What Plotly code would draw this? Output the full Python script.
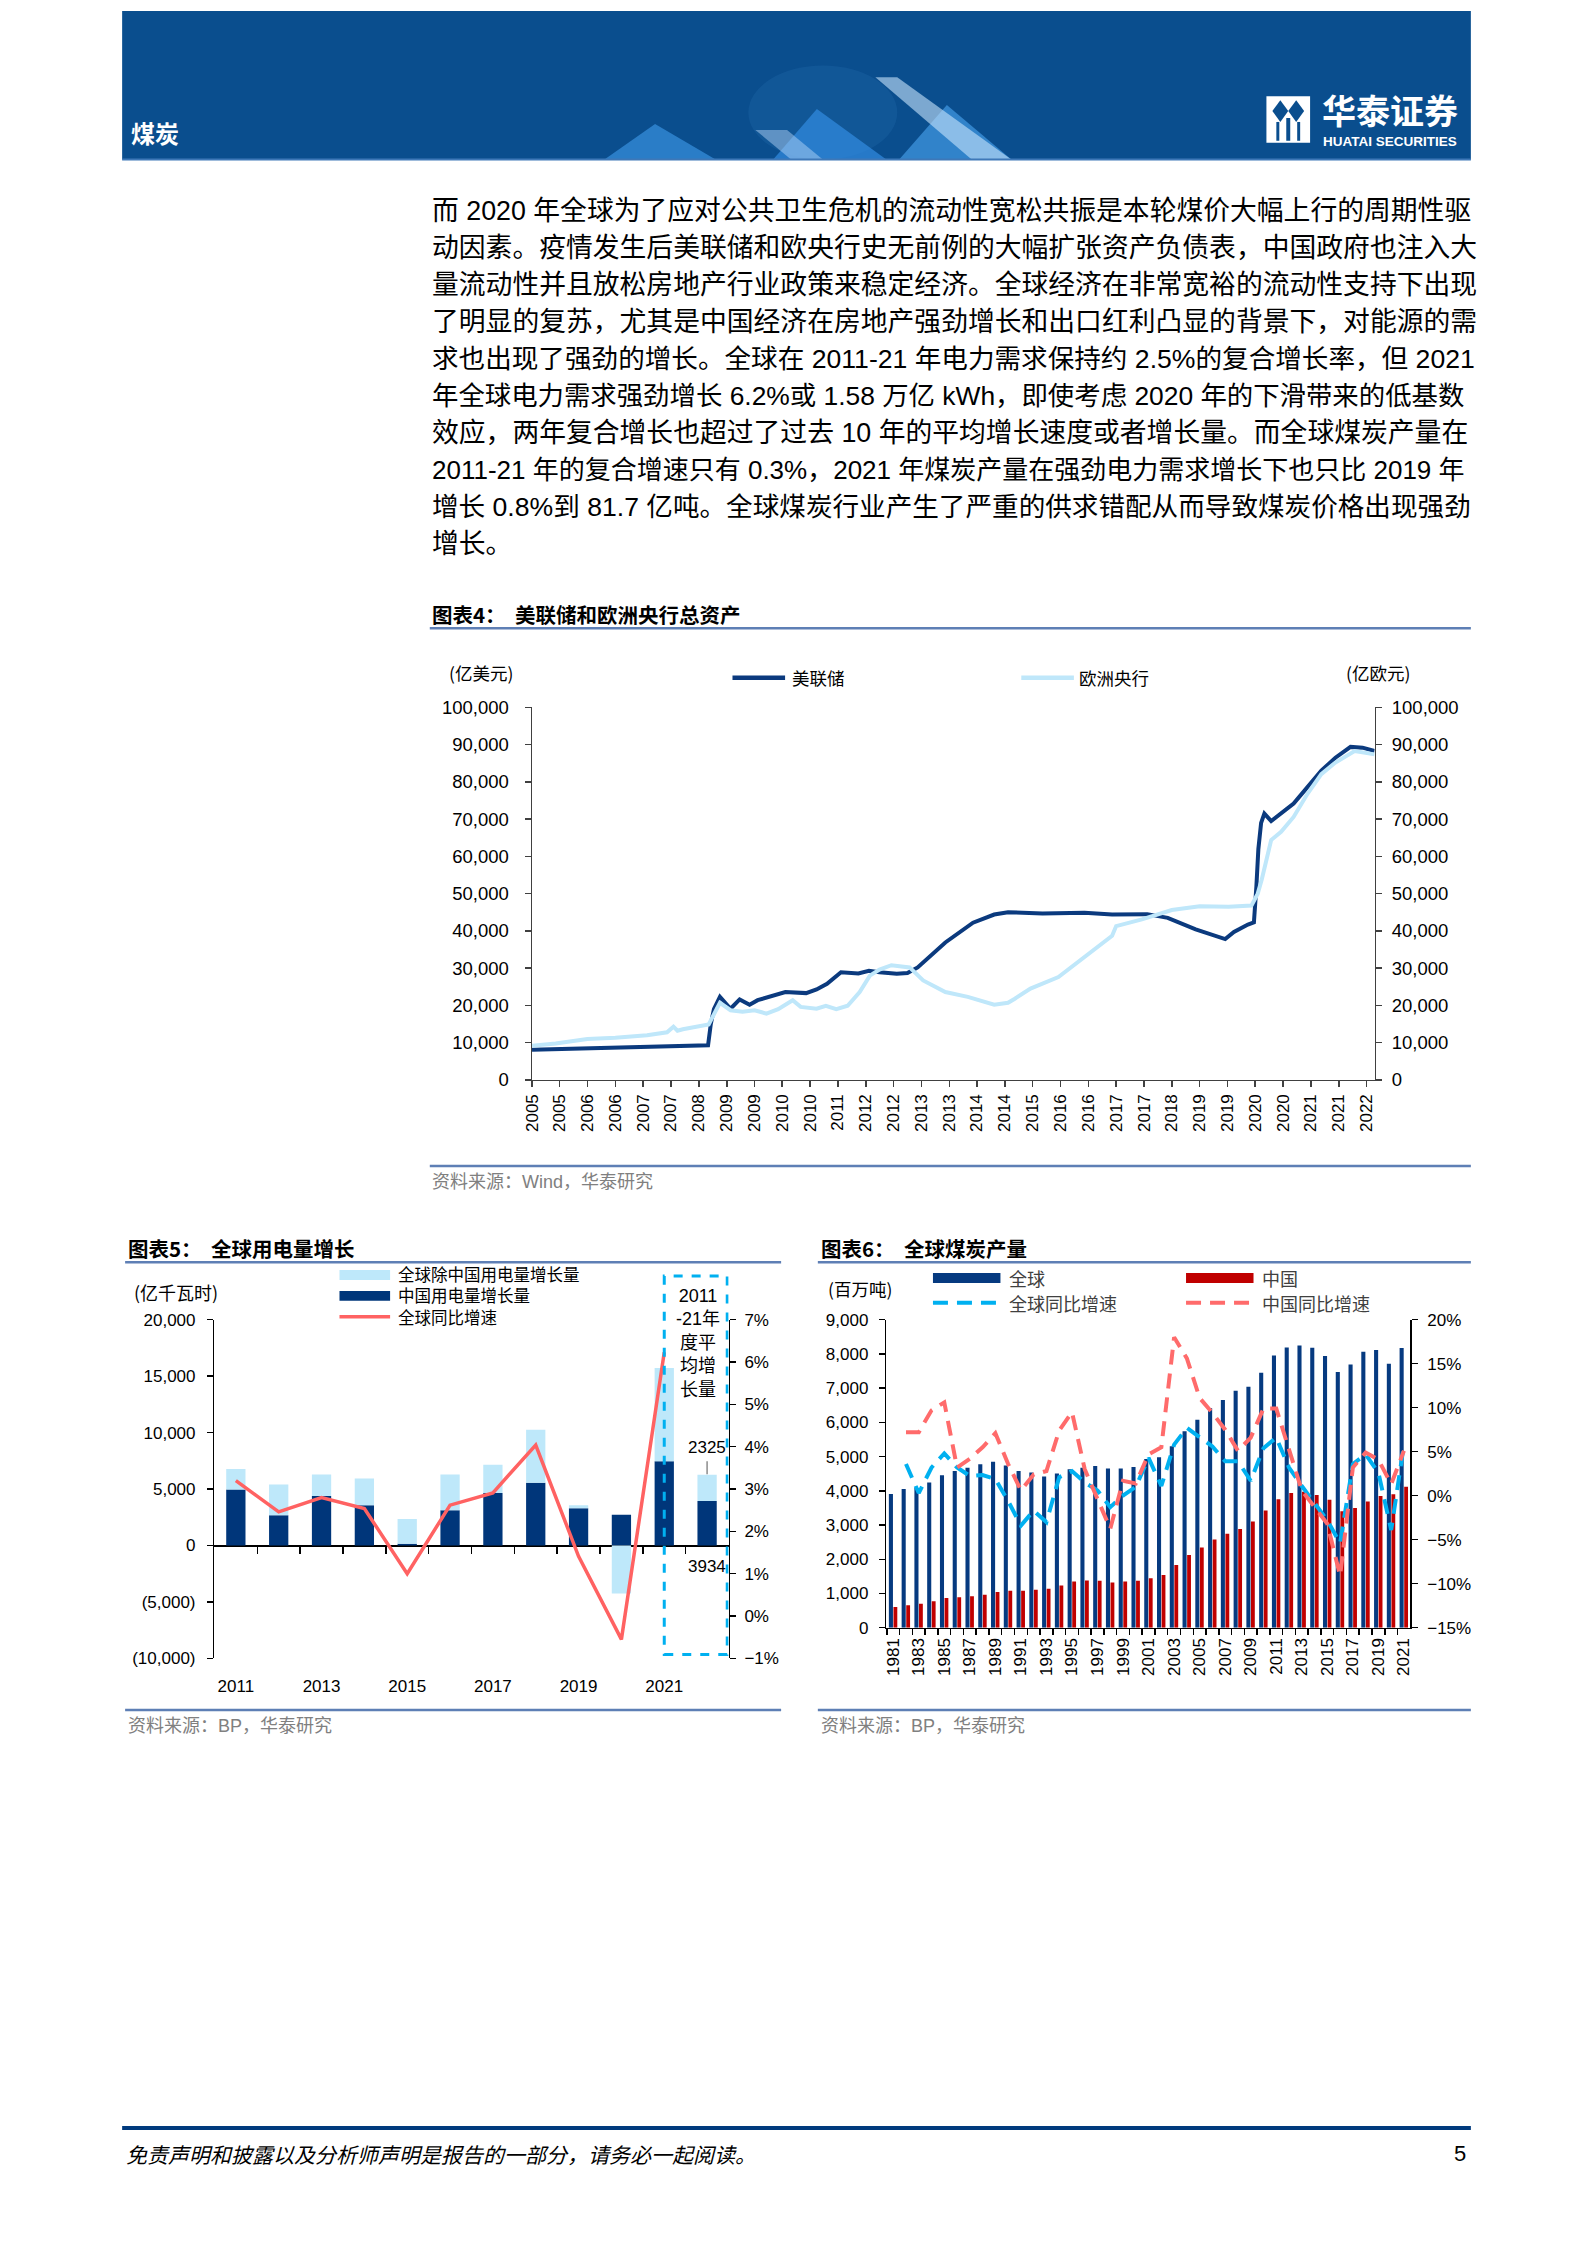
import plotly.graph_objects as go

W, H = 1587, 2245


def px(x):
    return x / W


def py(y):
    return 1 - y / H


CJK = "Noto Sans CJK SC"
MIX = "Liberation Sans, Arial, Noto Sans CJK SC"
NAVY = "#0B3A7E"
LIGHT = "#BFE7FA"
AXC = "#404040"

# ---------------- Chart 4 data: Fed / ECB total assets ----------------
fed_dates = ["2005-01-01", "2005-09-01", "2006-06-01", "2007-03-01", "2007-12-01", "2008-08-01",
             "2008-09-10", "2008-10-01", "2008-10-25", "2008-12-10", "2009-03-01", "2009-05-10",
             "2009-07-25", "2009-09-25", "2010-01-10", "2010-04-25", "2010-10-01", "2010-12-20",
             "2011-03-10", "2011-06-25", "2011-11-05", "2012-01-25", "2012-04-15", "2012-08-25",
             "2012-11-15", "2013-02-01", "2013-09-01", "2014-04-01", "2014-09-10", "2014-12-25",
             "2015-09-15", "2016-08-01", "2017-03-01", "2017-11-25", "2018-05-01", "2018-12-01",
             "2019-07-15", "2019-09-20", "2020-01-05", "2020-02-20", "2020-03-10", "2020-03-25",
             "2020-04-15", "2020-05-10", "2020-07-01", "2020-12-20", "2021-04-05", "2021-07-20",
             "2021-11-05", "2022-03-01", "2022-06-01", "2022-09-01"]
fed_values = [8100, 8300, 8600, 8800, 8900, 9100,
              9300, 15000, 19000, 22300, 19100, 21600,
              20200, 21400, 22500, 23600, 23300, 24300,
              25800, 28900, 28600, 29300, 28900, 28500,
              28700, 30200, 36900, 42200, 44400, 45000,
              44700, 44900, 44400, 44500, 43500, 40400,
              37800, 39700, 41700, 42300, 52000, 62000,
              69000, 71500, 69500, 74200, 78600, 83000,
              86500, 89400, 89200, 88300]

ecb_dates = ["2005-01-01", "2005-07-01", "2006-03-01", "2006-10-01", "2007-06-01", "2007-11-01",
             "2007-12-20", "2008-01-20", "2008-03-01", "2008-07-01", "2008-09-15", "2008-12-10",
             "2009-03-01", "2009-06-01", "2009-09-01", "2009-12-01", "2010-03-01", "2010-06-20",
             "2010-08-20", "2010-12-20", "2011-03-01", "2011-05-20", "2011-08-15", "2011-11-15",
             "2012-02-01", "2012-04-15", "2012-07-15", "2012-12-01", "2013-03-15", "2013-09-01",
             "2014-02-20", "2014-09-10", "2014-12-25", "2015-02-15", "2015-06-15", "2016-01-15",
             "2016-08-01", "2017-03-01", "2017-04-01", "2017-10-15", "2018-06-01", "2019-01-01",
             "2019-08-10", "2020-02-01", "2020-03-20", "2020-04-20", "2020-07-01", "2020-09-15",
             "2020-12-20", "2021-04-05", "2021-07-20", "2021-11-05", "2022-04-01", "2022-09-01"]
ecb_values = [9200, 9800, 11000, 11300, 12000, 12800,
              14300, 13200, 13600, 14500, 14900, 20700,
              18700, 18300, 18700, 17800, 19000, 21400,
              19600, 19100, 19900, 19000, 19900, 23600,
              28000, 29600, 30800, 30200, 26700, 23600,
              22300, 20200, 20700, 21800, 24500, 27600,
              32900, 38700, 41300, 43100, 45600, 46600,
              46500, 46800, 50000, 53800, 64400, 66600,
              70600, 76800, 82100, 85200, 88300, 87400]

c4_tick_dates = ["2005-01-01", "2005-08-01", "2006-03-01", "2006-10-01", "2007-05-01", "2007-12-01",
                 "2008-07-01", "2009-02-01", "2009-09-01", "2010-04-01", "2010-11-01", "2011-06-01",
                 "2012-01-01", "2012-08-01", "2013-03-01", "2013-10-01", "2014-05-01", "2014-12-01",
                 "2015-07-01", "2016-02-01", "2016-09-01", "2017-04-01", "2017-11-01", "2018-06-01",
                 "2019-01-01", "2019-08-01", "2020-03-01", "2020-10-01", "2021-05-01", "2021-12-01",
                 "2022-07-01"]
c4_tick_labels = ["2005", "2005", "2006", "2006", "2007", "2007", "2008", "2009", "2009", "2010",
                  "2010", "2011", "2012", "2012", "2013", "2013", "2014", "2014", "2015", "2016",
                  "2016", "2017", "2017", "2018", "2019", "2019", "2020", "2020", "2021", "2021",
                  "2022"]
c4_y_ticks = [0, 10000, 20000, 30000, 40000, 50000, 60000, 70000, 80000, 90000, 100000]

# ---------------- Chart 5 data: global power demand growth ----------------
c5_labels = ["2011", "2012", "2013", "2014", "2015", "2016", "2017", "2018", "2019", "2020",
             "2021", "2011-21年度平均增长量"]
c5_china = [4970, 2690, 4390, 3570, 150, 3130, 4650, 5560, 3300, 2720, 7460, 3934]
c5_rest = [1810, 2720, 1900, 2370, 2190, 3160, 2510, 4680, 260, -4240, 8250, 2325]
c5_growth = [3.20, 2.46, 2.80, 2.54, 1.00, 2.62, 2.91, 4.04, 1.41, -0.55, 6.23]  # %
c5_xtick_pos = [0, 2, 4, 6, 8, 10]
c5_xtick_text = ["2011", "2013", "2015", "2017", "2019", "2021"]
c5_ytick_vals = [-10000, -5000, 0, 5000, 10000, 15000, 20000]
c5_ytick_text = ["(10,000)", "(5,000)", "0", "5,000", "10,000", "15,000", "20,000"]
c5_y2_ticks = [-0.01, 0.0, 0.01, 0.02, 0.03, 0.04, 0.05, 0.06, 0.07]
c5_legend = ["全球除中国用电量增长量", "中国用电量增长量", "全球同比增速"]
c5_box_text = ["2011", "-21年", "度平", "均增", "长量"]

# ---------------- Chart 6 data: global coal production ----------------
c6_years = [1981, 1982, 1983, 1984, 1985, 1986, 1987, 1988, 1989, 1990, 1991, 1992, 1993, 1994,
            1995, 1996, 1997, 1998, 1999, 2000, 2001, 2002, 2003, 2004, 2005, 2006, 2007, 2008,
            2009, 2010, 2011, 2012, 2013, 2014, 2015, 2016, 2017, 2018, 2019, 2020, 2021]
c6_world = [3905, 4050, 4080, 4243, 4455, 4580, 4677, 4773, 4850, 4740, 4580, 4532, 4417, 4503,
            4629, 4677, 4725, 4648, 4648, 4696, 4930, 4980, 5304, 5738, 6075, 6413, 6654, 6924,
            7040, 7445, 7956, 8187, 8245, 8177, 7936, 7473, 7686, 8062, 8110, 7715, 8168]
c6_china = [608, 656, 704, 771, 868, 887, 916, 964, 1041, 1080, 1080, 1109, 1138, 1234,
            1350, 1379, 1369, 1321, 1350, 1369, 1446, 1543, 1832, 2122, 2343, 2575, 2748, 2883,
            3105, 3423, 3751, 3934, 3974, 3876, 3742, 3404, 3500, 3684, 3846, 3900, 4118]
c6_yoy_years = c6_years[1:]
c6_world_yoy = [3.6, 0.3, 3.2, 4.8, 3.2, 2.25, 2.35, 1.9, -0.6, -3.4, -1.7, -3.0, 2.1, 2.8,
                1.5, 0.6, -1.3, 0.0, 1.0, 4.3, 1.1, 5.8, 7.7, 6.6, 5.6, 3.9, 3.9, 1.7,
                5.4, 6.6, 3.2, 1.1, -0.8, -2.8, -5.4, 3.6, 4.7, 2.6, -3.9, 5.8]
c6_china_yoy = [7.2, 7.2, 9.7, 10.6, 3.2, 4.2, 5.5, 7.1, 3.6, 0.6, 2.4, 2.8, 7.4, 9.5,
                3.0, -0.5, -3.75, 1.7, 1.4, 4.7, 5.5, 18.0, 15.6, 11.1, 9.4, 7.5, 5.1, 6.6,
                9.9, 9.9, 5.1, 0.6, -1.3, -3.2, -9.1, 3.2, 4.9, 4.1, 1.3, 5.1]
c6_xtick_years = [1981, 1983, 1985, 1987, 1989, 1991, 1993, 1995, 1997, 1999, 2001, 2003, 2005,
                  2007, 2009, 2011, 2013, 2015, 2017, 2019, 2021]
c6_boundaries = [1980.5, 1981.5, 1982.5, 1983.5, 1984.5, 1985.5, 1986.5, 1987.5, 1988.5, 1989.5,
                 1990.5, 1991.5, 1992.5, 1993.5, 1994.5, 1995.5, 1996.5, 1997.5, 1998.5, 1999.5,
                 2000.5, 2001.5, 2002.5, 2003.5, 2004.5, 2005.5, 2006.5, 2007.5, 2008.5, 2009.5,
                 2010.5, 2011.5, 2012.5, 2013.5, 2014.5, 2015.5, 2016.5, 2017.5, 2018.5, 2019.5,
                 2020.5]
c6_y_ticks = [0, 1000, 2000, 3000, 4000, 5000, 6000, 7000, 8000, 9000]
c6_y2_ticks = [-0.15, -0.10, -0.05, 0.0, 0.05, 0.10, 0.15, 0.20]

body_lines = [
    "而 2020 年全球为了应对公共卫生危机的流动性宽松共振是本轮煤价大幅上行的周期性驱",
    "动因素。疫情发生后美联储和欧央行史无前例的大幅扩张资产负债表，中国政府也注入大",
    "量流动性并且放松房地产行业政策来稳定经济。全球经济在非常宽裕的流动性支持下出现",
    "了明显的复苏，尤其是中国经济在房地产强劲增长和出口红利凸显的背景下，对能源的需",
    "求也出现了强劲的增长。全球在 2011-21 年电力需求保持约 2.5%的复合增长率，但 2021",
    "年全球电力需求强劲增长 6.2%或 1.58 万亿 kWh，即使考虑 2020 年的下滑带来的低基数",
    "效应，两年复合增长也超过了过去 10 年的平均增长速度或者增长量。而全球煤炭产量在",
    "2011-21 年的复合增速只有 0.3%，2021 年煤炭产量在强劲电力需求增长下也只比 2019 年",
    "增长 0.8%到 81.7 亿吨。全球煤炭行业产生了严重的供求错配从而导致煤炭价格出现强劲",
    "增长。",
]
body_sizes = [26.8, 26.8, 26.8, 26.8, 26.6, 26.4, 26.8, 26.0, 26.6, 26.8]

# ---------------- figure ----------------
fig = go.Figure()

# chart 4
fig.add_trace(go.Scatter(x=fed_dates, y=fed_values, xaxis="x", yaxis="y", mode="lines",
                         line=dict(color=NAVY, width=4), hoverinfo="skip"))
fig.add_trace(go.Scatter(x=ecb_dates, y=ecb_values, xaxis="x", yaxis="y2", mode="lines",
                         line=dict(color=LIGHT, width=4), hoverinfo="skip"))

# chart 5
c5_x = list(range(len(c5_labels)))
c5_rest_base = [c if r > 0 else 0 for c, r in zip(c5_china, c5_rest)]
fig.add_trace(go.Bar(x=c5_x, y=c5_china, base=[0] * len(c5_x), xaxis="x2", yaxis="y3",
                     width=0.45, marker=dict(color="#00367A", line=dict(width=0)), hoverinfo="skip"))
fig.add_trace(go.Bar(x=c5_x, y=c5_rest, base=c5_rest_base, xaxis="x2", yaxis="y3",
                     width=0.45, marker=dict(color="#BEE8FA", line=dict(width=0)), hoverinfo="skip"))
fig.add_trace(go.Scatter(x=c5_x[:len(c5_growth)], y=[g / 100 for g in c5_growth], xaxis="x2", yaxis="y4",
                         mode="lines", line=dict(color="#FF6262", width=3.5), hoverinfo="skip"))
fig.add_trace(go.Scatter(x=[0], y=[0], xaxis="x3", yaxis="y3", mode="markers",
                         marker=dict(opacity=0), hoverinfo="skip"))

# chart 6
fig.add_trace(go.Bar(x=c6_years, y=c6_world, xaxis="x4", yaxis="y5", offset=-0.34, width=0.32,
                     marker=dict(color="#063A80", line=dict(width=0)), hoverinfo="skip"))
fig.add_trace(go.Bar(x=c6_years, y=c6_china, xaxis="x4", yaxis="y5", offset=0.02, width=0.30,
                     marker=dict(color="#C00000", line=dict(width=0)), hoverinfo="skip"))
fig.add_trace(go.Scatter(x=c6_yoy_years, y=[v / 100 for v in c6_world_yoy], xaxis="x4", yaxis="y6",
                         mode="lines", line=dict(color="#00B0F0", width=4, dash="15px,9px"),
                         hoverinfo="skip"))
fig.add_trace(go.Scatter(x=c6_yoy_years, y=[v / 100 for v in c6_china_yoy], xaxis="x4", yaxis="y6",
                         mode="lines", line=dict(color="#FF6B6B", width=4, dash="15px,9px"),
                         hoverinfo="skip"))
fig.add_trace(go.Scatter(x=[1990], y=[0], xaxis="x5", yaxis="y5", mode="markers",
                         marker=dict(opacity=0), hoverinfo="skip"))

TICKFONT = dict(family="Liberation Sans, Arial", size=17, color="#000")
TICKFONT4 = dict(family="Liberation Sans, Arial", size=18.5, color="#000")


def yax(**kw):
    d = dict(showgrid=False, zeroline=False, showline=True, linecolor=AXC, linewidth=1.5,
             ticks="outside", ticklen=6, tickcolor=AXC, tickwidth=1.5, tickfont=TICKFONT)
    d.update(kw)
    return d


c5_dom = [py(1663), py(1321)]
c5_zero_pos = c5_dom[0] + (c5_dom[1] - c5_dom[0]) * (0 - c5_ytick_vals[0]) / (c5_ytick_vals[-1] - c5_ytick_vals[0])

layout = dict(
    width=W, height=H, margin=dict(l=0, r=0, t=0, b=0),
    paper_bgcolor="white", plot_bgcolor="rgba(0,0,0,0)",
    showlegend=False, barmode="overlay",
    # chart 4
    xaxis=dict(domain=[px(527), px(1376)], anchor="y", type="date",
               range=["2005-01-01", "2022-09-01"], tickmode="array",
               tickvals=c4_tick_dates, ticktext=c4_tick_labels, tickangle=-90,
               ticks="outside", ticklen=6, tickcolor=AXC, tickwidth=1.5,
               showline=True, linecolor=AXC, linewidth=1.5, showgrid=False, zeroline=False,
               tickfont=TICKFONT),
    yaxis=yax(domain=[py(1079), py(703)], anchor="x", range=[0, 100000], tickfont=TICKFONT4,
              tickmode="array", tickvals=c4_y_ticks, tickformat=",d", ticklabelstandoff=12),
    yaxis2=yax(overlaying="y", side="right", anchor="x", range=[0, 100000], tickfont=TICKFONT4,
               tickmode="array", tickvals=c4_y_ticks, tickformat=",d", ticklabelstandoff=6),
    # chart 5
    xaxis2=dict(domain=[px(207), px(725)], anchor="y3", range=[-0.5, 11.5],
                tickmode="array", tickvals=c5_xtick_pos, ticktext=c5_xtick_text,
                ticks="", showline=False, showgrid=False, zeroline=False,
                tickfont=TICKFONT, ticklabelstandoff=16),
    xaxis3=dict(overlaying="x2", anchor="free", position=c5_zero_pos, range=[-0.5, 11.5],
                tickmode="array", tickvals=[i + 0.5 for i in c5_x[:-1]], ticks="outside",
                ticklen=7, tickcolor="#000", tickwidth=1.5, showticklabels=False,
                showline=False, showgrid=False, zeroline=False),
    yaxis3=yax(domain=c5_dom, anchor="x2", range=[-10000, 20000], tickmode="array",
               tickvals=c5_ytick_vals, ticktext=c5_ytick_text, zeroline=True,
               zerolinecolor="#000", zerolinewidth=2, ticklabelstandoff=8,
               linecolor="#000", tickcolor="#000"),
    yaxis4=yax(overlaying="y3", side="right", anchor="x2", range=[-0.01, 0.07],
               tickmode="array", tickvals=c5_y2_ticks, tickformat=".0%", ticklabelstandoff=5,
               linecolor="#000", tickcolor="#000"),
    # chart 6
    xaxis4=dict(domain=[px(884), px(1412)], anchor="y5", range=[1980.46, 2021.5],
                tickmode="array", tickvals=c6_xtick_years,
                ticktext=[str(y) for y in c6_xtick_years], tickangle=-90,
                ticks="", showline=False, showgrid=False, zeroline=False,
                tickfont=TICKFONT, ticklabelstandoff=6),
    xaxis5=dict(overlaying="x4", anchor="y5", range=[1980.46, 2021.5], tickmode="array",
                tickvals=c6_boundaries, ticks="outside", ticklen=6, tickcolor="#000",
                tickwidth=1.5, showticklabels=False, showline=True, linecolor="#000",
                linewidth=1.5, showgrid=False, zeroline=False),
    yaxis5=yax(domain=[py(1632), py(1321)], anchor="x4", range=[0, 9000], tickmode="array",
               tickvals=c6_y_ticks, tickformat=",d", linecolor="#000", tickcolor="#000",
               ticklabelstandoff=7),
    yaxis6=yax(overlaying="y5", side="right", anchor="x4", range=[-0.15, 0.20],
               tickmode="array", tickvals=c6_y2_ticks, tickformat=".0%",
               linecolor="#000", tickcolor="#000", ticklabelstandoff=6),
)
fig.update_layout(**layout)

shapes = []
ann = []


def rect(x0, y0, x1, y1, color, line=None):
    shapes.append(dict(type="rect", xref="paper", yref="paper", x0=px(x0), x1=px(x1),
                       y0=py(y1), y1=py(y0), fillcolor=color,
                       line=dict(width=0) if line is None else line, layer="above"))


def hline(x0, x1, y, color, width, dash="solid"):
    shapes.append(dict(type="line", xref="paper", yref="paper", x0=px(x0), x1=px(x1),
                       y0=py(y), y1=py(y), line=dict(color=color, width=width, dash=dash)))


def poly(pts, color):
    path = "M " + " L ".join(f"{px(x)},{py(y)}" for x, y in pts) + " Z"
    shapes.append(dict(type="path", xref="paper", yref="paper", path=path,
                       fillcolor=color, line=dict(width=0)))


def text(x, y, s, size=16, color="#000", family=MIX, anchor="left", bold=False, yanchor="middle",
         align="left"):
    if bold:
        s = "<b>" + s + "</b>"
    ann.append(dict(x=px(x), y=py(y), xref="paper", yref="paper", text=s, showarrow=False,
                    xanchor=anchor, yanchor=yanchor, align=align,
                    font=dict(family=family, size=size, color=color)))


SRC = "#808080"
RULE = "#5E7FB5"

# ---------------- header ----------------
rect(114, 0, 1473, 150, "#0A4E8E")
shapes.append(dict(type="circle", xref="paper", yref="paper", x0=px(745), x1=px(895),
                   y0=py(150), y1=py(55), fillcolor="rgba(90,170,240,0.10)", line=dict(width=0)))
poly([(600, 150), (651, 114), (712, 150)], "rgba(60,150,230,0.65)")
poly([(770, 150), (814, 99), (884, 150)], "rgba(50,140,225,0.7)")
poly([(752, 120), (784, 120), (820, 150), (788, 150)], "rgba(190,220,250,0.45)")
poly([(897, 150), (945, 95), (1010, 150)], "rgba(70,160,235,0.65)")
poly([(873, 67), (895, 67), (1010, 150), (970, 150)], "rgba(200,228,252,0.6)")
hline(114, 1473, 150, "#3E78B8", 2)
text(121, 123, "煤炭", size=24, color="white", family=CJK, bold=True)
# logo
rect(1267, 86, 1311, 133, "white")
poly([(1281, 90), (1289, 101), (1281, 112), (1273, 101)], "#0A4E8E")
poly([(1297, 90), (1305, 101), (1297, 112), (1289, 101)], "#0A4E8E")
rect(1277, 112, 1280, 131, "#0A4E8E")
rect(1287, 108, 1291, 131, "#0A4E8E")
rect(1298, 112, 1301, 131, "#0A4E8E")
text(1321, 99, "华泰证券", size=34, color="white", family=CJK, bold=True)
text(1322, 131.5, "HUATAI SECURITIES", size=13.5, color="white", family="Liberation Sans, Arial", bold=True)

# ---------------- body text ----------------
for i, line in enumerate(body_lines):
    text(424, 202 + 37.3 * i, line, size=body_sizes[i], color="#000", family=MIX)

# ---------------- chart 4 decorations ----------------
text(424, 609, "图表4：  美联储和欧洲央行总资产", size=20.5, family=CJK, bold=True)
hline(424, 1473, 623, RULE, 2.5)
text(441, 668, "(亿美元)", size=17.5, family=CJK)
text(1345, 668, "(亿欧元)", size=17.5, family=CJK)
hline(729, 782, 673, NAVY, 4.5)
text(787, 673, "美联储", size=17.5, family=CJK)
hline(1020, 1073, 673, LIGHT, 4.5)
text(1076, 673, "欧洲央行", size=17.5, family=CJK)
hline(424, 1473, 1166, RULE, 2.5)
text(424, 1182, "资料来源：Wind，华泰研究", size=18, color=SRC, family=MIX)

# ---------------- chart 5 decorations ----------------
text(118, 1249, "图表5：  全球用电量增长", size=20.5, family=CJK, bold=True)
hline(117, 778, 1263, RULE, 2.5)
text(124, 1293, "(亿千瓦时)", size=18, family=CJK)
rect(333, 1271, 384, 1281, "#BEE8FA")
rect(333, 1292, 384, 1302, "#00367A")
hline(333, 384, 1318, "#FF6262", 3.5)
text(390, 1297, "<br>".join(c5_legend), size=16.5, family=CJK)
# dashed box
shapes.append(dict(type="rect", xref="x2", yref="paper", x0=10, x1=11.47,
                   y0=py(1659), y1=py(1277), line=dict(color="#00B0F0", width=3, dash="dash"),
                   fillcolor="rgba(0,0,0,0)"))
ann.append(dict(x=10.78, y=py(1345), xref="x2", yref="paper", text="<br>".join(c5_box_text),
                showarrow=False, xanchor="center", yanchor="middle", align="center",
                font=dict(family=MIX, size=18, color="#000")))
shapes.append(dict(type="line", xref="x2", yref="y3", x0=11, x1=11, y0=6300, y1=7450,
                   line=dict(color="#8C8C8C", width=1.5)))
ann.append(dict(x=11, y=8650, xref="x2", yref="y3", text=str(c5_rest[-1]), showarrow=False,
                xanchor="center", yanchor="middle", font=dict(family=MIX, size=17, color="#000")))
ann.append(dict(x=11, y=-1850, xref="x2", yref="y3", text=str(c5_china[-1]), showarrow=False,
                xanchor="center", yanchor="middle", font=dict(family=MIX, size=17, color="#000")))
hline(117, 778, 1715, RULE, 2.5)
text(118, 1731, "资料来源：BP，华泰研究", size=18, color=SRC, family=MIX)

# ---------------- chart 6 decorations ----------------
text(816, 1249, "图表6：  全球煤炭产量", size=20.5, family=CJK, bold=True)
hline(815, 1473, 1263, RULE, 2.5)
text(823, 1290, "(百万吨)", size=17.5, family=CJK)
rect(931, 1274, 999, 1284, "#063A80")
text(1006, 1279, "全球", size=18, family=CJK, color="#404040")
rect(1186, 1274, 1254, 1284, "#C00000")
text(1261, 1279, "中国", size=18, family=CJK, color="#404040")
hline(931, 999, 1304, "#00B0F0", 4, dash="15px,9px")
text(1006, 1304, "全球同比增速", size=18, family=CJK, color="#404040")
hline(1186, 1254, 1304, "#FF6B6B", 4, dash="15px,9px")
text(1261, 1304, "中国同比增速", size=18, family=CJK, color="#404040")
hline(815, 1473, 1715, RULE, 2.5)
text(816, 1731, "资料来源：BP，华泰研究", size=18, color=SRC, family=MIX)

# ---------------- footer ----------------
hline(114, 1473, 2137, "#003A7D", 4)
text(116, 2163, "<i>免责声明和披露以及分析师声明是报告的一部分，请务必一起阅读。</i>", size=21, family=CJK)
text(1470, 2163, "5", size=22, family="Liberation Sans, Arial", anchor="right")

fig.update_layout(shapes=shapes, annotations=ann)
fig.write_html("out.html", config={"staticPlot": True, "displayModeBar": False},
               post_script="document.body.style.margin='0';document.body.style.padding='0';")
